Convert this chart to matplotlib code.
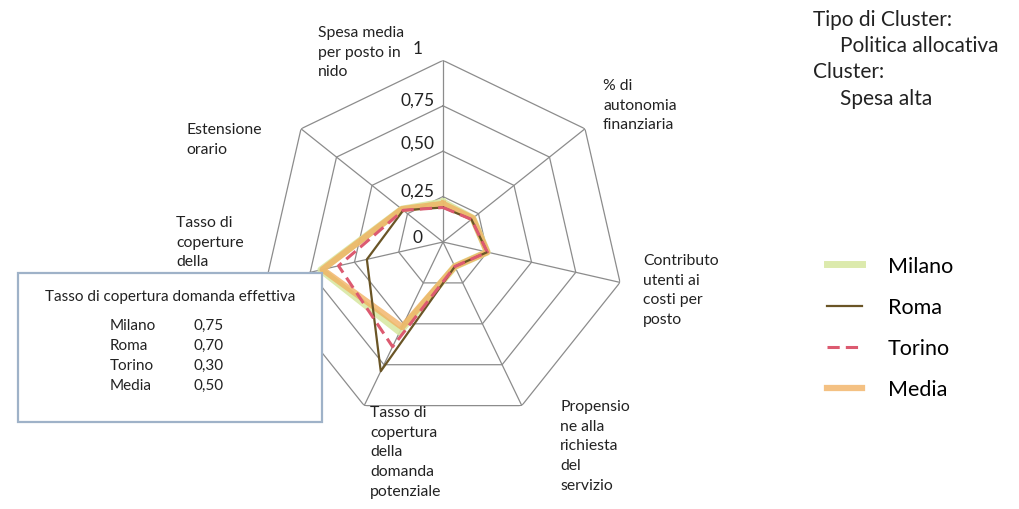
import numpy as np
import matplotlib.pyplot as plt
from matplotlib.patches import Rectangle
from matplotlib.transforms import offset_copy

plt.rcParams['font.family'] = ['Lato', 'DejaVu Sans']

# axes, clockwise from the top
categories = [
    "Spesa media\nper posto in\nnido",
    "% di\nautonomia\nfinanziaria",
    "Contributo\nutenti ai\ncosti per\nposto",
    "Propensio\nne alla\nrichiesta\ndel\nservizio",
    "Tasso di\ncopertura\ndella\ndomanda\npotenziale",
    "Tasso di\ncoperture\ndella",
    "Estensione\norario",
]
milano = [0.22, 0.21, 0.25, 0.15, 0.55, 0.69, 0.29]
roma = [0.19, 0.20, 0.25, 0.15, 0.79, 0.43, 0.28]
torino = [0.19, 0.20, 0.25, 0.15, 0.64, 0.59, 0.28]
media = [0.21, 0.21, 0.25, 0.15, 0.52, 0.68, 0.29]

ring_levels = [0.25, 0.5, 0.75, 1.0]
tick_labels = ["0", "0,25", "0,50", "0,75", "1"]
tick_values = [0, 0.25, 0.5, 0.75, 1.0]

box_title = "Tasso di copertura domanda effettiva"
box_names = ["Milano", "Roma", "Torino", "Media"]
box_values = ["0,75", "0,70", "0,30", "0,50"]

W, H = 1019, 510
fig = plt.figure(figsize=(W / 100, H / 100), dpi=100)

def fx(x):
    return x / W

def fy(y):
    return 1 - y / H

# radar area: centre (443, 243), radius ~182 px
cx, cy, R = 443, 243, 181.6
ax = fig.add_axes([fx(cx - R), fy(cy + R), 2 * R / W, 2 * R / H], projection='polar')
ax.set_theta_offset(np.pi / 2)
ax.set_theta_direction(-1)
ax.set_ylim(0, 1)
ax.grid(False)
ax.set_xticks([])
ax.set_yticks([])
ax.spines['polar'].set_visible(False)
ax.patch.set_alpha(0)

n = len(categories)
theta = np.linspace(0, 2 * np.pi, n, endpoint=False)
closed = np.append(theta, theta[0])

grid_col = '#8c8c8c'
for r in ring_levels:
    ax.plot(closed, [r] * (n + 1), color=grid_col, lw=0.9, zorder=1)
for t in theta:
    ax.plot([t, t], [0, 1], color=grid_col, lw=0.9, zorder=1)

def close(v):
    return list(v) + [v[0]]

l_mil, = ax.plot(closed, close(milano), color='#d9e8a4', lw=5, alpha=0.9,
                 solid_joinstyle='round', label='Milano', zorder=3)
l_med, = ax.plot(closed, close(media), color='#f1ad5a', lw=4.5, alpha=0.75,
                 solid_joinstyle='round', label='Media', zorder=4)
l_rom, = ax.plot(closed, close(roma), color='#6a5526', lw=1.6,
                 label='Roma', zorder=5)
l_tor, = ax.plot(closed, close(torino), color='#dc5a70', lw=2.2, ls=(0, (4, 2)),
                 label='Torino', zorder=6)

# radial value labels to the left of the top spoke
dx = [-20, -8, -8, -8, -20]
dy = [5, 6, 9, 6, 12]
for lab, v, ox, oy in zip(tick_labels, tick_values, dx, dy):
    tr = offset_copy(ax.transData, fig=fig, x=ox, y=oy, units='dots')
    ax.text(0, v, lab, transform=tr, ha='right', va='center', fontsize=12.5,
            color='#222222')

# category labels (pixel position of the top of the first line, left aligned)
label_pos = [(318, 26), (603, 79), (643, 254), (560, 400), (370, 406),
             (176, 216), (186, 123)]
for txt, (x, y) in zip(categories, label_pos):
    fig.text(fx(x), fy(y), txt, ha='left', va='top', fontsize=11.3,
             linespacing=1.52, color='#222222')

# tooltip box
box = Rectangle((fx(18), fy(423)), fx(322) - fx(18), fy(274) - fy(423),
                transform=fig.transFigure, facecolor='white',
                edgecolor='#9fb2c8', lw=1.6, zorder=10)
fig.patches.append(box)
fig.text(fx(170), fy(297), box_title, ha='center', va='center', fontsize=11,
         color='#222222', zorder=11)
for i, (nm, val) in enumerate(zip(box_names, box_values)):
    yy = 326 + 20 * i
    fig.text(fx(110), fy(yy), nm, ha='left', va='center', fontsize=11,
             color='#222222', zorder=11)
    fig.text(fx(193), fy(yy), val, ha='left', va='center', fontsize=11,
             color='#222222', zorder=11)

# cluster info top right
info = [("Tipo di Cluster:", 813, 20), ("Politica allocativa", 840, 46),
        ("Cluster:", 813, 72), ("Spesa alta", 840, 99)]
for txt, x, y in info:
    fig.text(fx(x), fy(y), txt, ha='left', va='center', fontsize=15,
             color='#222222')

fig.legend([l_mil, l_rom, l_tor, l_med], ['Milano', 'Roma', 'Torino', 'Media'],
           loc='upper left', bbox_to_anchor=(fx(827), fy(257)), frameon=False,
           fontsize=15.5, handlelength=1.63, handletextpad=1.2, labelspacing=0.98,
           borderpad=0, borderaxespad=0)

fig.savefig('out.png', dpi=100, facecolor='white')
